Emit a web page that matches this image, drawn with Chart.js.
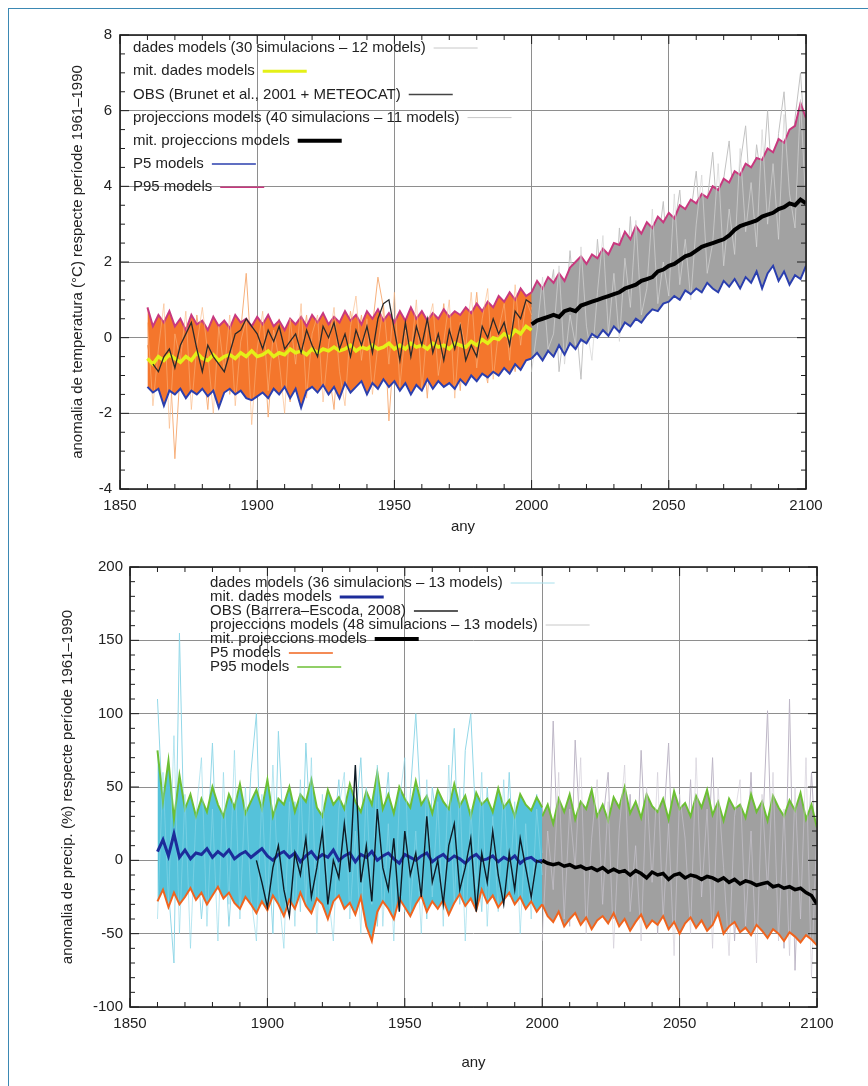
<!DOCTYPE html>
<html>
<head>
<meta charset="utf-8">
<script src="https://cdn.jsdelivr.net/npm/chart.js@4.4.1/dist/chart.umd.min.js"></script>
<style>
  html, body { margin: 0; padding: 0; background: #fff; }
  body { width: 868px; height: 1086px; position: relative; overflow: hidden; }
  .frame { position: absolute; left: 8px; top: 8px; width: 880px; height: 1100px;
           border-left: 1.5px solid #3b88b3; border-top: 1.5px solid #3b88b3; }
  canvas { position: absolute; left: 0; }
  #tempChart { top: 0; }
  #precChart { top: 545px; }
</style>
</head>
<body>
<div class="frame"></div>
<canvas id="tempChart" width="868" height="545"></canvas>
<canvas id="precChart" width="868" height="541"></canvas>
<script>
// years (every second year)
const histYears = [];
for (let y = 1860; y <= 2000; y += 2) histYears.push(y);
const projYears = [];
for (let y = 2000; y <= 2100; y += 2) projYears.push(y);

// ---- temperature (°C anomaly) ----
const tHistMean = [
  -0.55, -0.70, -0.50, -0.60, -0.45, -0.55, -0.65, -0.50, -0.60, -0.40,
  -0.55, -0.60, -0.45, -0.60, -0.50, -0.45, -0.55, -0.40, -0.50, -0.35,
  -0.50, -0.45, -0.35, -0.50, -0.40, -0.45, -0.30, -0.40, -0.35, -0.45,
  -0.30, -0.40, -0.30, -0.35, -0.25, -0.35, -0.30, -0.20, -0.35, -0.25,
  -0.30, -0.20, -0.30, -0.25, -0.15, -0.30, -0.20, -0.30, -0.15, -0.25,
  -0.20, -0.30, -0.15, -0.25, -0.20, -0.30, -0.15, -0.20, -0.25, -0.10,
  -0.20, -0.05, -0.15, 0.00, -0.05, 0.10, 0.00, 0.20, 0.10, 0.30,
  0.20
];
const tP95Hist = [
  0.80, 0.30, 0.60, 0.40, 0.70, 0.30, 0.50, 0.20, 0.60, 0.35,
  0.45, 0.20, 0.55, 0.30, 0.45, 0.25, 0.60, 0.40, 0.50, 0.30,
  0.55, 0.35, 0.60, 0.30, 0.45, 0.20, 0.50, 0.35, 0.55, 0.30,
  0.60, 0.40, 0.65, 0.35, 0.55, 0.40, 0.70, 0.45, 0.60, 0.35,
  0.70, 0.50, 0.75, 0.45, 0.65, 0.40, 0.70, 0.45, 0.80, 0.50,
  0.70, 0.45, 0.65, 0.50, 0.75, 0.55, 0.70, 0.60, 0.80, 0.65,
  0.90, 0.70, 0.95, 0.80, 1.10, 0.95, 1.20, 1.00, 1.30, 1.10,
  1.20
];
const tP5Hist = [
  -1.30, -1.45, -1.35, -1.80, -1.40, -1.50, -1.35, -1.60, -1.40, -1.50,
  -1.35, -1.55, -1.40, -1.85, -1.45, -1.35, -1.50, -1.40, -1.60, -1.65,
  -1.55, -1.45, -1.60, -1.35, -1.50, -1.30, -1.60, -1.35, -1.85, -1.40,
  -1.30, -1.45, -1.25, -1.50, -1.30, -1.60, -1.20, -1.45, -1.30, -1.15,
  -1.50, -1.20, -1.35, -1.10, -1.30, -1.15, -1.40, -1.20, -1.50, -1.25,
  -1.40, -1.10, -1.35, -1.15, -1.30, -1.20, -1.35, -1.10, -1.25, -1.00,
  -1.15, -0.95, -1.05, -0.90, -1.00, -0.80, -0.95, -0.70, -0.85, -0.60,
  -0.55
];
const tObs = [
  null, -0.70, -0.90, -0.50, -0.30, -0.80, -0.20, 0.10, 0.40, -0.30,
  -0.90, -0.20, -0.50, -0.70, -0.90, -0.40, 0.10, 0.20, 0.50, 0.30,
  0.10, -0.30, 0.20, -0.10, 0.30, -0.30, -0.10, 0.10, -0.40, 0.20,
  -0.20, -0.50, 0.30, 0.00, 0.40, -0.30, 0.10, -0.50, 0.20, -0.20,
  0.30, -0.40, 0.50, 0.90, 1.00, 0.20, -0.60, 0.40, -0.50, 0.30,
  -0.20, 0.50, -0.40, 0.10, -0.60, 0.20, -0.30, 0.30, -0.60, -0.20,
  -0.50, 0.30, 0.00, 0.50, 0.10, 0.40, -0.20, 0.70, 0.50, 1.00,
  0.90
];
const tSimHistA = [
  -0.2, -0.9, 0.3, -1.6, -0.4, -3.2, -0.8, 0.2, -1.2, 0.6,
  -0.5, -1.9, 0.1, -0.7, 0.4, -1.5, -0.3, 0.2, 1.7, -0.6,
  -1.1, 0.3, -2.1, -0.2, 0.5, -0.9, -1.7, 0.1, -0.4, 0.6,
  -1.3, -0.2, 0.4, -0.8, -1.9, 0.2, -0.5, 0.7, -0.3, 0.6,
  -1.0, 0.3, 1.6, 0.8, -2.2, -0.1, 0.4, -1.1, 0.6, -0.4,
  0.2, -1.6, 0.5, -0.3, 0.9, -0.8, 0.1, -1.4, 0.6, -0.2,
  1.2, -0.5, -1.2, 0.4, 1.0, -0.3, 0.7, -0.9, 1.1, 0.4,
  0.8
];
const tSimHistB = [
  0.4, -1.8, -0.3, 0.9, -2.4, 0.1, -0.6, 0.7, -1.9, -0.2,
  0.8, -0.4, -2.0, 0.3, -0.9, 0.6, -1.8, -0.1, 0.5, -2.3,
  -0.3, 0.7, -1.4, 0.2, -0.6, -2.0, 0.5, -0.7, 0.9, -1.6,
  0.1, 0.6, -1.7, -0.2, 0.8, -0.9, -1.8, 0.3, 1.1, -0.6,
  0.5, -1.5, -0.2, 0.9, -0.7, 1.2, -1.3, 0.2, -0.5, 1.0,
  -1.4, 0.3, 0.9, -1.0, -0.1, 1.0, -1.6, 0.4, -0.3, 1.2,
  -0.8, 0.5, 1.3, -1.1, 0.2, 0.9, -0.6, 1.4, -0.2, 1.0,
  0.6
];
const tMeanProj = [
  0.35, 0.45, 0.50, 0.55, 0.60, 0.55, 0.70, 0.75, 0.70, 0.85,
  0.90, 0.95, 1.00, 1.05, 1.10, 1.15, 1.20, 1.30, 1.35, 1.40,
  1.50, 1.55, 1.60, 1.75, 1.80, 1.90, 1.95, 2.05, 2.15, 2.20,
  2.30, 2.40, 2.45, 2.50, 2.55, 2.60, 2.70, 2.85, 2.95, 3.00,
  3.05, 3.10, 3.20, 3.25, 3.30, 3.40, 3.45, 3.55, 3.50, 3.65,
  3.55
];
const tP95Proj = [
  1.20, 1.50, 1.30, 1.60, 1.45, 1.70, 1.50, 1.85, 2.00, 2.15,
  1.95, 2.20, 2.10, 2.35, 2.20, 2.50, 2.45, 2.80, 2.60, 2.95,
  2.75, 3.05, 2.90, 3.20, 3.05, 3.30, 3.15, 3.50, 3.40, 3.65,
  3.55, 3.80, 3.70, 4.00, 3.90, 4.20, 4.10, 4.40, 4.30, 4.60,
  4.50, 4.75, 4.70, 5.00, 4.90, 5.25, 5.15, 5.50, 5.60, 6.20,
  5.80
];
const tP5Proj = [
  -0.55, -0.40, -0.60, -0.35, -0.50, -0.20, -0.45, -0.15, -0.30, -0.05,
  -0.15, 0.10, 0.00, 0.20, 0.05, 0.30, 0.15, 0.40, 0.30, 0.50,
  0.40, 0.60, 0.75, 0.70, 0.90, 0.95, 1.10, 1.00, 1.25, 1.15,
  1.30, 1.20, 1.45, 1.30, 1.20, 1.50, 1.35, 1.55, 1.30, 1.60,
  1.45, 1.75, 1.30, 1.70, 1.90, 1.50, 1.75, 1.40, 1.65, 1.55,
  1.90
];
const tSimProjA = [
  0.5, 1.4, -0.6, 0.9, 1.8, -0.9, 0.3, 2.3, 0.6, -1.1,
  1.5, 0.2, 2.6, 0.8, 1.6, 0.4, 2.9, 1.0, 3.2, 0.6,
  1.9, 3.0, 1.2, 2.4, 3.6, 1.6, 2.9, 3.9, 2.0, 3.3,
  4.4, 2.4, 3.6, 4.9, 2.8, 4.2, 5.2, 3.1, 4.6, 5.6,
  3.3, 5.1, 4.0, 6.0, 3.6, 5.4, 6.5, 4.2, 5.8, 7.0,
  4.8
];
const tSimProjB = [
  -0.9, 0.2, 1.6, -0.3, 0.1, 1.9, -0.7, 0.6, -0.2, 2.4,
  0.3, -0.6, 1.2, 2.7, 0.1, 1.7, -0.1, 2.1, 0.8, 3.1,
  0.6, 1.3, 3.4, 0.9, 2.0, 1.1, 3.8, 1.4, 2.6, 1.0,
  3.0, 4.3, 1.7, 2.5, 4.6, 1.9, 3.4, 2.2, 5.0, 2.8,
  4.1, 2.4, 5.5, 3.0, 4.6, 2.6, 5.9, 3.8, 2.9, 6.3,
  3.4
];

// ---- precipitation (% anomaly) ----
const pHistMean = [
  6, 14, 3, 18, 2, 7, 1, 5, 4, 8,
  2, 6, 3, 7, 1, 4, 6, 2, 5, 8,
  3, 0, 4, 6, 2, 5, -1, 3, 6, 1,
  4, 2, 7, 0, 3, 5, -1, 4, 2, 6,
  0, 3, 5, 1, -2, 4, 2, 0, 3, 5,
  -1, 2, 4, 0, 3, 1, -2, 2, 4, 0,
  1, 3, -1, 2, 0, 3, -2, 1, 2, -1,
  0
];
const pP95Hist = [
  75, 40, 68, 28, 58, 35, 45, 30, 42, 33,
  50, 38, 30, 45, 36, 52, 32, 40, 48, 35,
  55, 30, 42, 38, 50, 33, 45, 40, 55, 36,
  30, 48, 38, 43, 35, 52, 40, 33, 47, 38,
  60, 35, 45, 32, 50, 42, 36, 54, 38, 44,
  32, 48, 40, 35, 52, 37, 44, 30, 46, 38,
  42, 33, 49, 36, 41, 30, 45, 38, 34, 43,
  36
];
const pP5Hist = [
  -28, -20, -32, -22, -30, -25, -19, -27, -22, -30,
  -24, -18, -26, -22, -29, -33, -25, -30, -36, -28,
  -34, -24, -30, -38, -27, -33, -22, -31, -36, -26,
  -30, -40, -28, -24, -33, -29, -37, -25, -45, -55,
  -35, -28, -33, -40, -26, -32, -38, -30, -24, -35,
  -28, -33, -27, -37, -29, -23, -31, -26, -34, -20,
  -29, -24, -32, -27, -22, -30, -25, -33, -28, -35,
  -30
];
const pObs = [
  null, null, null, null, null, null, null, null, null, null,
  null, null, null, null, null, null, null, null, 0, -15,
  -32, -5, 10, -20, -38, 5, -10, 15, -25, -5,
  20, -30, 0, -12, 25, -8, 65, -15, 10, -28,
  35, -5, -20, 15, -35, 20, -10, 5, -25, 30,
  -15, 0, -30, 10, 25, -20, -5, 15, -35, 5,
  -15, 20, -10, -30, 5, -20, 15, -5, -25, 0,
  -2
];
const pSimHistA = [
  110, 30, -20, -70, 155, -10, 40, 15, -40, 5,
  80, -20, 25, -45, 10, 35, -15, 60, 100, -30,
  20, -50, 88, 10, -20, 40, -35, 80, 5, -25,
  30, -40, 15, 55, -10, -30, 25, 70, -15, 40,
  -45, 20, 60, -20, 10, -35, 45, 100, 30, -40,
  50, 20, -15, 25, 90, -30, 75, 100, 20, -35,
  50, -10, 30, -25, 60, -15, 40, -20, 10, 45,
  5
];
const pSimHistB = [
  -40, 60, -30, 85, -50, 45, -60, 30, 70, -45,
  35, -55, 60, -30, 75, -40, 50, -25, -55, 45,
  -35, 65, -20, -60, 40, -45, 55, -30, 70, -50,
  45, -20, -55, 35, 60, -40, 20, -50, 50, -30,
  65, -45, 25, -55, 40, 70, -35, 20, -50, 55,
  -25, 40, -45, 65, -30, 50, -55, 35, -20, 60,
  -45, 30, -35, 55, -25, 40, -50, 25, -40, 35,
  -10
];
const pMeanProj = [
  0, -2, -3, -2, -4, -3, -5, -4, -6, -5,
  -7, -5, -8, -6, -8, -7, -10, -7, -9, -12,
  -8, -10, -9, -13, -10, -9, -12, -10, -11, -13,
  -11, -12, -14, -12, -15, -13, -16, -14, -15, -17,
  -16, -15, -18, -17, -19, -18, -20, -19, -22, -24,
  -30
];
const pP95Proj = [
  30, 38, 25, 42, 33, 45, 28, 40, 35, 48,
  30, 38, 27, 43, 36, 50, 32, 40, 29, 45,
  37, 33, 42, 28, 47, 35, 39, 30, 44, 36,
  48, 31, 40, 27, 42, 35, 38, 29, 45, 33,
  40, 27, 44, 36, 30, 41, 34, 46, 28, 38,
  22
];
const pP5Proj = [
  -30, -38, -42, -35, -45, -40, -36, -44, -39, -47,
  -41, -38, -43, -36, -45, -40, -48, -42, -37, -46,
  -41, -44, -38, -47, -42, -50, -43, -39, -46, -41,
  -48, -44, -36, -50, -45, -42, -49, -46, -51, -44,
  -48, -53, -47, -50, -55, -49, -52, -56, -51, -54,
  -58
];
const pSimProjA = [
  40, -30, 95, -10, 30, -45, 82, 10, -35, 50,
  -20, 25, 60, -40, 15, -15, 45, -25, 75, -5,
  30, -50, 20, 80, -30, 10, -20, 55, -45, 25,
  -10, 70, -35, 15, 40, -55, 20, -15, 60, -40,
  10, 102, -30, 35, -60, 110, -75, 30, -20, 60,
  -10
];
const pSimProjB = [
  -55, 20, -20, 60, -40, 35, -5, 70, -50, 15,
  55, -30, 40, -60, 20, 65, -35, 10, -55, 50,
  -15, 60, -40, 25, -65, 45, 15, -50, 70, -25,
  35, -60, 50, -5, -65, 30, 55, -45, 20, -70,
  45, -20, 60, -55, 35, -65, 50, -40, 70, -80,
  25
];

const tLegend = [
  { text: "dades models (30 simulacions – 12 models)", color: "#c8c8c8", width: 1 },
  { text: "mit. dades models", color: "#e4f018", width: 3 },
  { text: "OBS (Brunet et al., 2001 + METEOCAT)", color: "#444", width: 1.5 },
  { text: "projeccions models (40 simulacions – 11 models)", color: "#c8c8c8", width: 1 },
  { text: "mit. projeccions models", color: "#000", width: 4 },
  { text: "P5 models", color: "#2b3fae", width: 1.5 },
  { text: "P95 models", color: "#c8387e", width: 1.5 },
];
const pLegend = [
  { text: "dades models (36 simulacions – 13 models)", color: "#a8e0ec", width: 1 },
  { text: "mit. dades models", color: "#1c2c9a", width: 3 },
  { text: "OBS (Barrera–Escoda, 2008)", color: "#222", width: 1.5 },
  { text: "projeccions models (48 simulacions – 13 models)", color: "#c8c8c8", width: 1 },
  { text: "mit. projeccions models", color: "#000", width: 4 },
  { text: "P5 models", color: "#f0641e", width: 1.5 },
  { text: "P95 models", color: "#6cbf34", width: 1.5 },
];

const fontFamily = "'Liberation Sans', Arial, sans-serif";
const textColor = "#222";

function pts(years, values) {
  return values.map((v, i) => ({ x: years[i], y: v }));
}

// gnuplot-like frame with inward ticks
const framePlugin = {
  id: "gpFrame",
  afterDatasetsDraw(chart, args, opts) {
    const { ctx, chartArea: a, scales } = chart;
    const x = scales.x, y = scales.y;
    ctx.save();
    ctx.strokeStyle = "#1e1e1e";
    ctx.lineWidth = 1;
    const seg = (x1, y1, x2, y2) => {
      ctx.beginPath(); ctx.moveTo(x1, y1); ctx.lineTo(x2, y2); ctx.stroke();
    };
    for (let v = x.min; v <= x.max + 1e-9; v += opts.xMinor) {
      const px = x.getPixelForValue(v);
      const len = Math.abs(v % opts.xMajor) < 1e-9 ? 9 : 5;
      seg(px, a.bottom, px, a.bottom - len);
      seg(px, a.top, px, a.top + len);
    }
    for (let v = y.min; v <= y.max + 1e-9; v += opts.yMinor) {
      const py = y.getPixelForValue(v);
      const r = Math.abs(((v - y.min) % opts.yMajor));
      const len = r < 1e-9 || Math.abs(r - opts.yMajor) < 1e-9 ? 9 : 5;
      seg(a.left, py, a.left + len, py);
      seg(a.right, py, a.right - len, py);
    }
    ctx.lineWidth = 1.6;
    ctx.strokeRect(a.left, a.top, a.right - a.left, a.bottom - a.top);
    ctx.restore();
  },
};

// key inside the plot, text followed by a short line sample
const keyPlugin = {
  id: "gpKey",
  afterDraw(chart, args, opts) {
    const ctx = chart.ctx;
    ctx.save();
    ctx.font = "15px " + fontFamily;
    ctx.textBaseline = "middle";
    opts.items.forEach((item, i) => {
      const ty = opts.y + i * opts.step;
      ctx.fillStyle = textColor;
      ctx.fillText(item.text, opts.x, ty);
      const sx = opts.x + ctx.measureText(item.text).width + 8;
      ctx.strokeStyle = item.color;
      ctx.lineWidth = item.width;
      ctx.beginPath();
      ctx.moveTo(sx, ty);
      ctx.lineTo(sx + 44, ty);
      ctx.stroke();
    });
    ctx.restore();
  },
};

function lineSet(data, color, width, order, extra) {
  return Object.assign({
    data: data,
    borderColor: color,
    borderWidth: width,
    pointRadius: 0,
    tension: 0,
    fill: false,
    order: order,
  }, extra || {});
}

function makeScales(o) {
  return {
    x: {
      type: "linear",
      min: 1850,
      max: 2100,
      ticks: {
        stepSize: 50,
        autoSkip: false,
        maxRotation: 0,
        padding: 8,
        color: textColor,
        font: { size: 15, family: fontFamily },
        callback: (v) => String(v),
      },
      grid: { color: "#8e8e8e", lineWidth: 1, drawTicks: false },
      border: { display: false },
      title: {
        display: true,
        text: "any",
        color: textColor,
        font: { size: 15, family: fontFamily },
        padding: { top: 4, bottom: o.anyPad },
      },
      afterFit: (s) => { s.height = o.xHeight; },
    },
    y: {
      min: o.yMin,
      max: o.yMax,
      ticks: {
        stepSize: o.yStep,
        padding: o.yTickPad,
        color: textColor,
        font: { size: 15, family: fontFamily },
      },
      grid: { color: "#8e8e8e", lineWidth: 1, drawTicks: false },
      border: { display: false },
      title: {
        display: true,
        text: o.yTitle,
        color: textColor,
        font: { size: 15, family: fontFamily },
        padding: { top: o.titlePad, bottom: 0 },
      },
      afterFit: (s) => { s.width = o.yWidth; },
    },
  };
}

// Temperature chart
new Chart(document.getElementById("tempChart"), {
  type: "line",
  data: {
    datasets: [
      lineSet(pts(histYears, tP95Hist), "#c8387e", 2, 5,
        { fill: { target: 1, above: "#f4762c", below: "#f4762c" } }),
      lineSet(pts(histYears, tP5Hist), "#2b3fae", 2, 3),
      lineSet(pts(projYears, tP95Proj), "#c8387e", 2, 5,
        { fill: { target: 3, above: "#a2a2a2", below: "#a2a2a2" } }),
      lineSet(pts(projYears, tP5Proj), "#2b3fae", 2, 3),
      lineSet(pts(histYears, tHistMean), "#e4f018", 3.5, 4),
      lineSet(pts(histYears, tObs), "#2a2a2a", 1.3, 2),
      lineSet(pts(projYears, tMeanProj), "#000000", 4, 1),
      lineSet(pts(histYears, tSimHistA), "#f7b07c", 1, 10),
      lineSet(pts(histYears, tSimHistB), "rgba(250,180,125,0.6)", 1, 4.5),
      lineSet(pts(projYears, tSimProjA), "#c2c2c2", 1, 10),
      lineSet(pts(projYears, tSimProjB), "rgba(212,212,212,0.7)", 1, 4.5),
    ],
  },
  options: {
    responsive: false,
    animation: false,
    layout: { padding: { left: 60, right: 62, top: 35, bottom: 0 } },
    plugins: {
      legend: { display: false },
      tooltip: { enabled: false },
      gpFrame: { xMinor: 10, xMajor: 50, yMinor: 0.5, yMajor: 2 },
      gpKey: { items: tLegend, x: 133, y: 48, step: 23.2 },
    },
    scales: makeScales({
      yMin: -4, yMax: 8, yStep: 2, yWidth: 60, yTickPad: 8, titlePad: 9,
      xHeight: 56, anyPad: 9,
      yTitle: "anomalia de temperatura (°C) respecte període 1961–1990",
    }),
  },
  plugins: [framePlugin, keyPlugin],
});

// Precipitation chart
new Chart(document.getElementById("precChart"), {
  type: "line",
  data: {
    datasets: [
      lineSet(pts(histYears, pP95Hist), "#6cbf34", 2, 5,
        { fill: { target: 1, above: "#55c2da", below: "#55c2da" } }),
      lineSet(pts(histYears, pP5Hist), "#f0641e", 2, 3),
      lineSet(pts(projYears, pP95Proj), "#6cbf34", 2, 5,
        { fill: { target: 3, above: "#a0a0a0", below: "#a0a0a0" } }),
      lineSet(pts(projYears, pP5Proj), "#f0641e", 2, 3),
      lineSet(pts(histYears, pHistMean), "#1c2c9a", 3, 4),
      lineSet(pts(histYears, pObs), "#0e1a24", 1.4, 2),
      lineSet(pts(projYears, pMeanProj), "#000000", 3.5, 1),
      lineSet(pts(histYears, pSimHistA), "#93d8e8", 1, 10),
      lineSet(pts(histYears, pSimHistB), "rgba(140,215,232,0.6)", 1, 4.5),
      lineSet(pts(projYears, pSimProjA), "#bdb6c6", 1, 10),
      lineSet(pts(projYears, pSimProjB), "rgba(205,200,212,0.6)", 1, 4.5),
    ],
  },
  options: {
    responsive: false,
    animation: false,
    layout: { padding: { left: 52, right: 51, top: 22, bottom: 0 } },
    plugins: {
      legend: { display: false },
      tooltip: { enabled: false },
      gpFrame: { xMinor: 10, xMajor: 50, yMinor: 10, yMajor: 50 },
      gpKey: { items: pLegend, x: 210, y: 38, step: 14 },
    },
    scales: makeScales({
      yMin: -100, yMax: 200, yStep: 50, yWidth: 78, yTickPad: 7, titlePad: 7,
      xHeight: 79, anyPad: 14,
      yTitle: "anomalia de precip. (%) respecte període 1961–1990",
    }),
  },
  plugins: [framePlugin, keyPlugin],
});
</script>
</body>
</html>
